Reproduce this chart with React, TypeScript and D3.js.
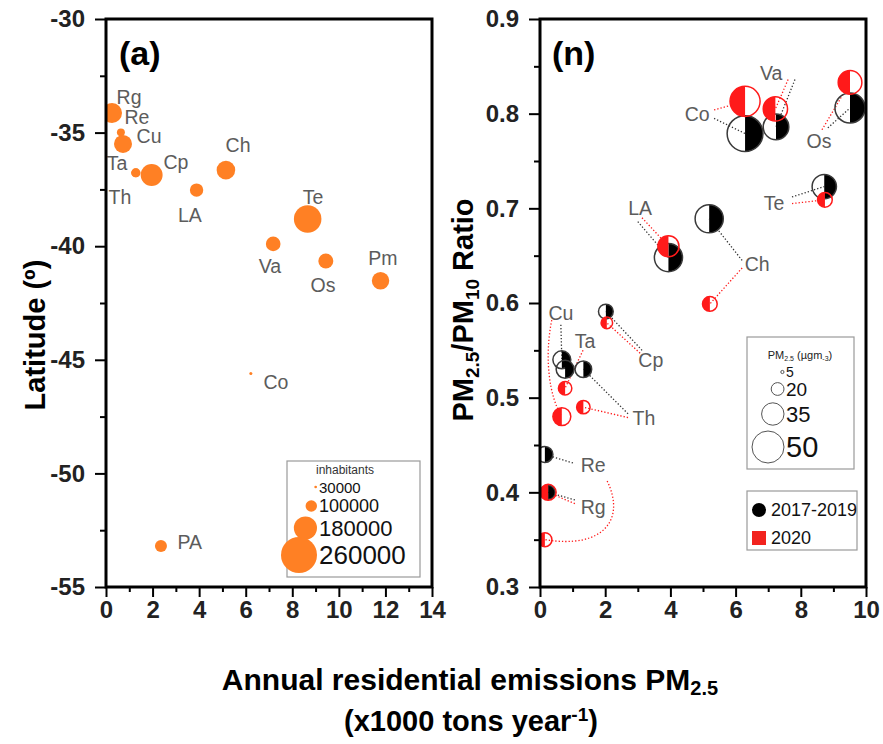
import { useEffect, useRef } from "react";
import * as d3 from "d3";

const FONT = "'Liberation Sans', Arial, Helvetica, sans-serif";

// -----------------------------
// Panel (a): emissions vs latitude, size = inhabitants
// -----------------------------
const citiesA = ["Rg", "Re", "Cu", "Ta", "Th", "Cp", "LA", "Ch", "Te", "Va", "Os", "Pm", "Co", "PA"];
const emissionsA = [0.26, 0.64, 0.73, 1.27, 1.29, 1.96, 3.89, 5.15, 8.66, 7.18, 9.44, 11.79, 6.22, 2.36];
const latitudeA = [-34.14, -34.99, -35.5, -36.77, -36.77, -36.87, -37.53, -36.65, -38.8, -39.9, -40.65, -41.52, -45.6, -53.2];
const inhabitantsA = [159000, 74000, 146000, 82000, 82000, 172000, 114000, 150000, 208000, 123000, 125000, 142000, 33000, 104000];
// label anchors in data units
const labelXA = [0.99, 1.33, 1.85, 0.47, 0.6, 3.0, 3.6, 5.67, 8.89, 7.04, 9.32, 11.89, 7.3, 3.6];
const labelYA = [-33.42, -34.3, -35.15, -36.34, -37.83, -36.29, -38.63, -35.55, -37.83, -40.87, -41.71, -40.52, -45.98, -53.02];
const legendInhabitants = [30000, 100000, 180000, 260000];

// -----------------------------
// Panel (n): emissions vs PM2.5/PM10 ratio, size = PM2.5
// -----------------------------
const citiesN = ["Co", "Va", "Os", "Te", "LA", "Ch", "Cp", "Cu", "Ta", "Th", "Re", "Rg"];
const emis1719 = [6.29, 7.24, 9.51, 8.72, 3.94, 5.19, 2.02, 0.67, 0.77, 1.33, 0.15, 0.25];
const ratio1719 = [0.779, 0.786, 0.806, 0.723, 0.648, 0.689, 0.591, 0.54, 0.53, 0.53, 0.44, 0.4];
const pm1719 = [56, 40, 47, 38, 44, 44, 23, 28, 28, 26, 25, 22];
const emis2020 = [6.29, 7.22, 9.51, 8.74, 3.94, 5.21, 2.05, 0.67, 0.77, 1.33, 0.15, 0.25];
const ratio2020 = [0.813, 0.805, 0.833, 0.709, 0.66, 0.599, 0.579, 0.48, 0.51, 0.49, 0.35, 0.4];
const pm2020 = [47, 38, 37, 23, 33, 23, 18, 28, 21, 21, 22, 25];
const labelXN = [4.82, 7.09, 8.56, 7.18, 3.07, 6.66, 3.4, 0.64, 1.38, 3.19, 1.63, 1.63];
const labelYN = [0.8, 0.843, 0.771, 0.7055, 0.7, 0.641, 0.54, 0.589, 0.56, 0.478, 0.4285, 0.384];
// leader starts (data units); 1 point = straight line, 3 points = curve (start, c1, c2)
const leaderBlack: (number[][] | null)[] = [
  [[5.34, 0.795]], [[7.82, 0.836]], [[8.83, 0.785]], [[7.73, 0.712]], [[3.0, 0.686]], [[6.2, 0.645]],
  [[3.13, 0.55]], [[0.64, 0.577]], null, [[2.7, 0.483]], [[1.01, 0.431]], [[1.07, 0.392]],
];
const leaderRed: (number[][] | null)[] = [
  [[5.34, 0.804]], [[7.61, 0.836]], [[8.65, 0.783]], [[7.73, 0.705]], [[3.13, 0.69]], [[6.2, 0.637]],
  [[3.07, 0.547]], [[0.36, 0.582], [0.12, 0.54], [0.3, 0.5]], [[1.32, 0.55]], [[2.7, 0.479]],
  [[2.06, 0.412], [2.65, 0.37], [1.9, 0.34]], [[1.07, 0.388]],
];
const legendPM = [5, 20, 35, 50];
const seriesNames = ["2017-2019", "2020"];

const ORANGE = "#ff8024";
const RED = "#ff1a1a";

export default function App() {
  const ref = useRef<SVGSVGElement>(null);

  useEffect(() => {
    if (!ref.current) return;
    document.body.style.margin = "0";
    const svg = d3.select(ref.current);
    svg.selectAll("*").remove();

    const xA = d3.scaleLinear().domain([0, 14]).range([106, 432]);
    const yA = d3.scaleLinear().domain([-55, -30]).range([587, 19]);
    const xN = d3.scaleLinear().domain([0, 10]).range([540, 866]);
    const yN = d3.scaleLinear().domain([0.3, 0.9]).range([587, 19]);
    const rA = d3.scalePow().exponent(1.2).domain([0, 260000]).range([0, 18]);
    const rN = d3.scaleLinear().domain([0, 50]).range([0, 16]);

    const defs = svg.append("defs");
    const clip = (id: string, x: any, y: any) =>
      defs
        .append("clipPath")
        .attr("id", id)
        .append("rect")
        .attr("x", x.range()[0])
        .attr("y", y.range()[1])
        .attr("width", x.range()[1] - x.range()[0])
        .attr("height", y.range()[0] - y.range()[1]);
    clip("clipA", xA, yA);
    clip("clipN", xN, yN);

    // -----------------------------
    // Axes + frame
    // -----------------------------
    const axes = (x: any, y: any, xMaj: number[], xMin: number[], yMaj: number[], yMin: number[], fmt: (d: any) => string) => {
      const g = svg.append("g");
      const y0 = y.range()[0];
      const x0 = x.range()[0];
      g.append("g").attr("transform", `translate(0,${y0})`)
        .call(d3.axisBottom(x).tickValues(xMin).tickSize(5).tickFormat(() => ""));
      g.append("g").attr("transform", `translate(0,${y0})`)
        .call(d3.axisBottom(x).tickValues(xMaj).tickSize(10).tickPadding(4).tickFormat((d: any) => String(d)));
      g.append("g").attr("transform", `translate(${x0},0)`)
        .call(d3.axisLeft(y).tickValues(yMin).tickSize(6).tickFormat(() => ""));
      g.append("g").attr("transform", `translate(${x0},0)`)
        .call(d3.axisLeft(y).tickValues(yMaj).tickSize(11).tickPadding(10).tickFormat(fmt));
      g.selectAll(".domain").remove();
      g.selectAll(".tick line").attr("stroke", "#000").attr("stroke-width", 2);
      g.selectAll(".tick text")
        .attr("fill", "#222")
        .style("font-family", FONT)
        .style("font-weight", "bold")
        .style("font-size", "24px");
    };
    const frame = (x: any, y: any) =>
      svg.append("rect")
        .attr("x", x.range()[0])
        .attr("y", y.range()[1])
        .attr("width", x.range()[1] - x.range()[0])
        .attr("height", y.range()[0] - y.range()[1])
        .attr("fill", "none")
        .attr("stroke", "#000")
        .attr("stroke-width", 3);

    axes(xA, yA, d3.range(0, 15, 2), d3.range(1, 14, 2), d3.range(-55, -29, 5), d3.range(-52.5, -30, 5), (d) => String(d));
    axes(xN, yN, d3.range(0, 11, 2), d3.range(1, 10, 2), [0.3, 0.4, 0.5, 0.6, 0.7, 0.8, 0.9], [0.35, 0.45, 0.55, 0.65, 0.75, 0.85], d3.format(".1f"));

    // -----------------------------
    // Panel (a) bubbles
    // -----------------------------
    const gA = svg.append("g").attr("clip-path", "url(#clipA)");
    gA.selectAll("circle")
      .data(citiesA)
      .join("circle")
      .attr("cx", (_, i) => xA(emissionsA[i]))
      .attr("cy", (_, i) => yA(latitudeA[i]))
      .attr("r", (_, i) => rA(inhabitantsA[i]))
      .attr("fill", ORANGE);

    svg.append("g")
      .selectAll("text")
      .data(citiesA)
      .join("text")
      .attr("x", (_, i) => xA(labelXA[i]))
      .attr("y", (_, i) => yA(labelYA[i]))
      .attr("text-anchor", "middle")
      .attr("dominant-baseline", "central")
      .attr("fill", "#5c5c5c")
      .style("font-family", FONT)
      .style("font-size", "19.5px")
      .text((d) => d);

    // legend (a)
    const lgA = svg.append("g");
    lgA.append("rect").attr("x", 287).attr("y", 461).attr("width", 133).attr("height", 116)
      .attr("fill", "#fff").attr("stroke", "#9a9a9a").attr("stroke-width", 1.2);
    lgA.append("text").attr("x", 345).attr("y", 470).attr("text-anchor", "middle").attr("dominant-baseline", "central")
      .style("font-family", FONT).style("font-size", "12px").attr("fill", "#333").text("inhabitants");
    const legYA = [487, 506, 528, 555];
    const legFontA = [15, 18, 22, 26];
    legendInhabitants.forEach((p, i) => {
      const r = rA(p);
      lgA.append("circle").attr("cx", 317 - r).attr("cy", legYA[i]).attr("r", r).attr("fill", ORANGE);
      lgA.append("text").attr("x", 319).attr("y", legYA[i]).attr("dominant-baseline", "central")
        .style("font-family", FONT).style("font-size", `${legFontA[i]}px`).attr("fill", "#111")
        .text(String(p));
    });

    // -----------------------------
    // Panel (n) leaders + half-filled markers
    // -----------------------------
    const gN = svg.append("g");
    const leader = (pts: number[][] | null, ex: number, ey: number, color: string) => {
      if (!pts) return;
      const p = d3.path();
      p.moveTo(xN(pts[0][0]), yN(pts[0][1]));
      if (pts.length === 3) {
        p.bezierCurveTo(xN(pts[1][0]), yN(pts[1][1]), xN(pts[2][0]), yN(pts[2][1]), xN(ex), yN(ey));
      } else {
        p.lineTo(xN(ex), yN(ey));
      }
      gN.append("path").attr("d", p.toString()).attr("fill", "none").attr("stroke", color)
        .attr("stroke-width", 1.3).attr("stroke-dasharray", "1.3,2");
    };
    citiesN.forEach((_, i) => {
      leader(leaderBlack[i], emis1719[i], ratio1719[i], "#333");
      leader(leaderRed[i], emis2020[i], ratio2020[i], RED);
    });

    const half = (cx: number, cy: number, r: number, right: boolean) =>
      `M${cx},${cy - r}A${r},${r} 0 0 ${right ? 1 : 0} ${cx},${cy + r}Z`;
    const markers = gN.append("g").attr("clip-path", "url(#clipN)");
    const drawSeries = (ex: number[], ey: number[], pm: number[], outline: string, fill: string, right: boolean) => {
      citiesN.forEach((_, i) => {
        const cx = xN(ex[i]);
        const cy = yN(ey[i]);
        const r = rN(pm[i]);
        markers.append("path").attr("d", half(cx, cy, r, right)).attr("fill", fill);
        markers.append("circle").attr("cx", cx).attr("cy", cy).attr("r", r)
          .attr("fill", "none").attr("stroke", outline).attr("stroke-width", 1.5);
      });
    };
    drawSeries(emis1719, ratio1719, pm1719, "#3a3a3a", "#000", true);
    drawSeries(emis2020, ratio2020, pm2020, RED, RED, false);

    svg.append("g")
      .selectAll("text")
      .data(citiesN)
      .join("text")
      .attr("x", (_, i) => xN(labelXN[i]))
      .attr("y", (_, i) => yN(labelYN[i]))
      .attr("text-anchor", "middle")
      .attr("dominant-baseline", "central")
      .attr("fill", "#5c5c5c")
      .style("font-family", FONT)
      .style("font-size", "19.5px")
      .text((d) => d);

    // legend PM2.5 sizes
    const lgP = svg.append("g");
    lgP.append("rect").attr("x", 747).attr("y", 337).attr("width", 107).attr("height", 132)
      .attr("fill", "#fff").attr("stroke", "#9a9a9a").attr("stroke-width", 1.2);
    const tP = lgP.append("text").attr("x", 800).attr("y", 355).attr("text-anchor", "middle")
      .attr("dominant-baseline", "central").style("font-family", FONT).style("font-size", "11px").attr("fill", "#222");
    tP.append("tspan").text("PM");
    tP.append("tspan").attr("font-size", "7px").attr("dy", 3).text("2.5");
    tP.append("tspan").attr("dy", -3).text(" (µgm");
    tP.append("tspan").attr("font-size", "7px").attr("dy", 3).text("-3");
    tP.append("tspan").attr("dy", -3).text(")");
    const legYP = [372, 389, 414, 447];
    const legFontP = [14, 19, 22, 29];
    legendPM.forEach((v, i) => {
      const r = rN(v);
      lgP.append("circle").attr("cx", 784 - r).attr("cy", legYP[i]).attr("r", r)
        .attr("fill", "#fff").attr("stroke", "#555").attr("stroke-width", 1);
      lgP.append("text").attr("x", 786).attr("y", legYP[i]).attr("dominant-baseline", "central")
        .style("font-family", FONT).style("font-size", `${legFontP[i]}px`).attr("fill", "#111")
        .text(String(v));
    });

    // legend series
    const lgS = svg.append("g");
    lgS.append("rect").attr("x", 747).attr("y", 491).attr("width", 110).attr("height", 59)
      .attr("fill", "#fff").attr("stroke", "#9a9a9a").attr("stroke-width", 1.2);
    lgS.append("circle").attr("cx", 759).attr("cy", 510).attr("r", 7).attr("fill", "#000");
    lgS.append("rect").attr("x", 752).attr("y", 531).attr("width", 14).attr("height", 14).attr("fill", "#f2231e");
    seriesNames.forEach((s, i) => {
      lgS.append("text").attr("x", 771).attr("y", 510 + i * 28).attr("dominant-baseline", "central")
        .style("font-family", FONT).style("font-size", "18px").attr("fill", "#111").text(s);
    });

    frame(xA, yA);
    frame(xN, yN);

    // -----------------------------
    // Titles
    // -----------------------------
    const bold = (sel: any, size: number) =>
      sel.style("font-family", FONT).style("font-weight", "bold").style("font-size", `${size}px`).attr("fill", "#000");

    bold(svg.append("text").attr("x", 119).attr("y", 65), 34).text("(a)");
    bold(svg.append("text").attr("x", 552).attr("y", 65), 34).text("(n)");

    bold(svg.append("text").attr("transform", "translate(45,335) rotate(-90)").attr("text-anchor", "middle"), 29)
      .text("Latitude (º)");

    const yt = bold(svg.append("text").attr("transform", "translate(473,310) rotate(-90)").attr("text-anchor", "middle"), 29);
    yt.append("tspan").text("PM");
    yt.append("tspan").attr("font-size", "19px").attr("dy", 6).text("2.5");
    yt.append("tspan").attr("dy", -6).text("/PM");
    yt.append("tspan").attr("font-size", "19px").attr("dy", 6).text("10");
    yt.append("tspan").attr("dy", -6).text(" Ratio");

    const xt1 = bold(svg.append("text").attr("x", 470).attr("y", 690).attr("text-anchor", "middle"), 30);
    xt1.append("tspan").text("Annual residential emissions PM");
    xt1.append("tspan").attr("font-size", "20px").attr("dy", 5).text("2.5");
    const xt2 = bold(svg.append("text").attr("x", 471).attr("y", 731).attr("text-anchor", "middle"), 29);
    xt2.append("tspan").text("(x1000 tons year");
    xt2.append("tspan").attr("font-size", "19px").attr("dy", -10).text("-1");
    xt2.append("tspan").attr("dy", 10).text(")");
  }, []);

  return <svg ref={ref} width={883} height={744} style={{ display: "block", background: "#fff" }} />;
}
